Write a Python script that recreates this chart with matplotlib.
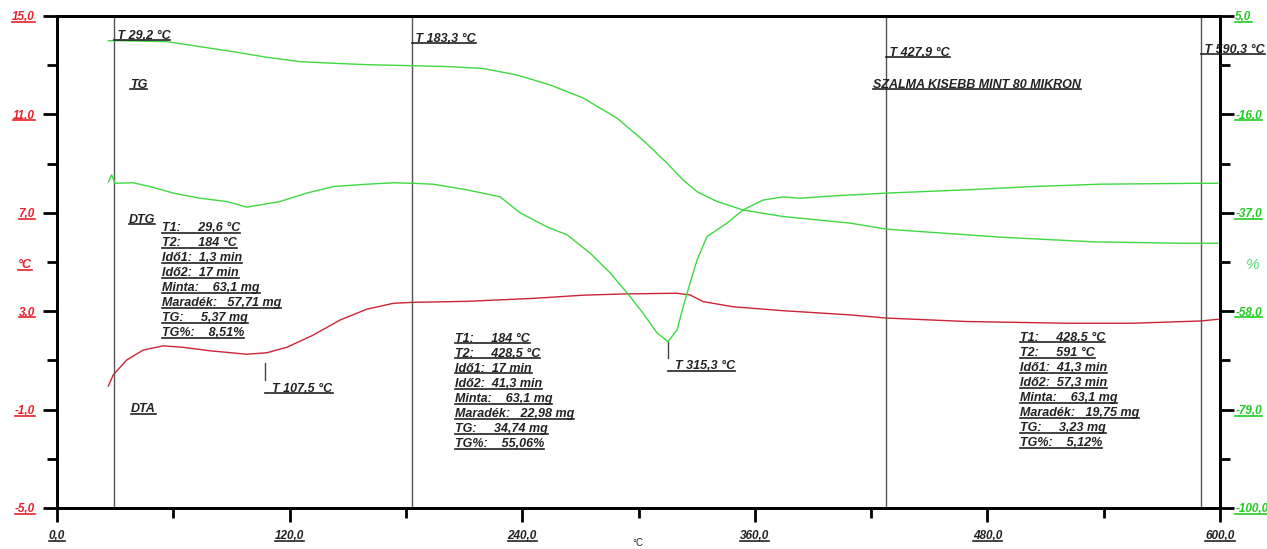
import matplotlib
matplotlib.use("Agg")
import matplotlib.pyplot as plt
from matplotlib.lines import Line2D

plt.rcParams['font.family'] = ['Liberation Sans', 'DejaVu Sans']

# TG curve (right axis, %)
tg_temp = [26.5, 32.5, 56.6, 73.8, 91.0, 108.2, 125.4, 142.6, 159.8, 183.0, 202.8,
           219.8, 237.3, 254.3, 271.4, 288.9, 302.3, 314.7, 323.0, 330.2, 340.5,
           353.9, 374.6, 409.1, 428.0, 486.5, 534.5, 579.4, 599.0]
tg_val = [-0.27, -0.27, -0.48, -1.55, -2.62, -3.81, -4.75, -5.09, -5.39, -5.61, -5.82,
          -6.2, -7.6, -9.7, -12.5, -16.8, -21.5, -26.4, -30.0, -32.5, -34.6,
          -36.4, -37.8, -39.2, -40.5, -42.2, -43.2, -43.5, -43.5]

# DTG curve (right axis)
dtg_temp = [26.5, 28.2, 29.9, 39.2, 48.0, 60.0, 73.8, 87.6, 97.9, 115.0, 128.8,
            142.6, 159.8, 173.5, 183.0, 194.1, 211.4, 228.6, 238.9, 252.8, 263.1,
            275.0, 285.3, 294.1, 302.3, 309.5, 315.2, 319.9, 323.0, 326.6, 330.2,
            335.3, 345.7, 353.9, 364.2, 374.6, 383.3, 400.4, 428.0, 469.3, 503.5,
            538.1, 589.7, 599.0]
dtg_val = [-30.4, -28.9, -30.7, -30.6, -31.4, -32.8, -33.9, -34.6, -35.8, -34.6, -32.8,
           -31.4, -30.9, -30.6, -30.7, -30.9, -32.1, -33.6, -37.0, -40.0, -41.7,
           -45.6, -49.8, -54.1, -58.4, -62.6, -64.5, -62.0, -57.1, -52.0, -47.1,
           -42.1, -39.2, -36.4, -34.3, -33.6, -33.9, -33.4, -32.8, -32.1, -31.4,
           -30.9, -30.7, -30.7]

# DTA curve (left axis, °C)
dta_temp = [26.5, 29.0, 36.0, 44.5, 54.8, 65.2, 78.9, 97.9, 108.2, 118.5, 132.2,
            146.0, 159.8, 173.5, 183.8, 211.4, 245.6, 271.4, 292.0, 319.7, 326.6,
            333.3, 348.8, 374.6, 409.1, 428.0, 469.3, 520.9, 555.1, 589.7, 599.0]
dta_val = [-0.04, 0.41, 1.02, 1.42, 1.59, 1.53, 1.39, 1.25, 1.31, 1.53, 2.03,
           2.64, 3.08, 3.32, 3.36, 3.40, 3.52, 3.65, 3.70, 3.73, 3.66,
           3.39, 3.18, 3.02, 2.85, 2.72, 2.58, 2.51, 2.51, 2.60, 2.67]

vlines = [29.2, 183.3, 427.9, 590.3]
vline_labels = [" T 29,2 °C", " T 183,3 °C", " T 427,9 °C", " T 590,3 °C"]
vline_label_y = [14.19, 14.07, 13.5, 13.62]

peaks = [107.5, 315.3]
peak_labels = ["  T 107,5 °C", "  T 315,3 °C"]

block1 = ["T1:     29,6 °C", "T2:     184 °C", "Idő1:  1,3 min", "Idő2:  17 min",
          "Minta:    63,1 mg", "Maradék:   57,71 mg", "TG:     5,37 mg", "TG%:    8,51%"]
block2 = ["T1:     184 °C", "T2:     428,5 °C", "Idő1:  17 min", "Idő2:  41,3 min",
          "Minta:    63,1 mg", "Maradék:   22,98 mg", "TG:     34,74 mg", "TG%:    55,06%"]
block3 = ["T1:     428,5 °C", "T2:     591 °C", "Idő1:  41,3 min", "Idő2:  57,3 min",
          "Minta:    63,1 mg", "Maradék:   19,75 mg", "TG:     3,23 mg", "TG%:    5,12%"]

x_major = [0, 120, 240, 360, 480, 600]
x_minor = [60, 180, 300, 420, 540]
left_major = [15, 11, 7, 3, -1, -5]
left_minor = [13, 9, 5, 1, -3]
right_major = [5, -16, -37, -58, -79, -100]
right_minor = [-5.5, -26.5, -47.5, -68.5, -89.5]

GREEN = "#40d840"
RED = "#cc2436"
LRED = "#e8202a"
LGREEN = "#22cc22"

fig = plt.figure(figsize=(12.67, 5.49), dpi=100)
ax = fig.add_axes([0.045, 0.0747, 0.9179, 0.8962])
ax2 = ax.twinx()

ax.set_xlim(0, 600)
ax.set_ylim(-5, 15)
ax2.set_ylim(-100, 5)

ax.plot(dta_temp, dta_val, color=RED, lw=1)
ax2.plot(tg_temp, tg_val, color=GREEN, lw=1)
ax2.plot(dtg_temp, dtg_val, color=GREEN, lw=1)

for v in vlines:
    ax.axvline(v, color="#555555", lw=1)

# peak markers
ax.plot([peaks[0], peaks[0]], [0.2, 0.89], color="#444444", lw=1)
ax.plot([peaks[1], peaks[1]], [1.1, 1.75], color="#444444", lw=1)

for sp in ax.spines.values():
    sp.set_linewidth(2)
for sp in ax2.spines.values():
    sp.set_linewidth(2)

tick_font = dict(fontsize=8.5, fontweight="bold", fontstyle="italic")
tfont = dict(fontsize=9, fontweight="bold", fontstyle="italic")

ax.set_xticks(x_major)
ax.set_xticks(x_minor, minor=True)
ax.set_xticklabels([f"{v:.1f}".replace(".", ",") for v in x_major], color="#222222", **tick_font)
ax.set_yticks(left_major)
ax.set_yticks(left_minor, minor=True)
ax.set_yticklabels([f"{v:.1f}".replace(".", ",") for v in left_major], color=LRED, **tick_font)
ax2.set_yticks(right_major)
ax2.set_yticks(right_minor, minor=True)
ax2.set_yticklabels([f"{v:.1f}".replace(".", ",") for v in right_major], color=LGREEN, **tick_font)

ax.tick_params(axis="both", which="major", length=10, width=2, direction="out", pad=6)
ax.tick_params(axis="both", which="minor", length=7, width=2, direction="out")
ax2.tick_params(axis="y", which="major", length=10, width=2, direction="out", pad=1)
ax2.tick_params(axis="y", which="minor", length=7, width=2, direction="out")

under = []
for v, lab, y in zip(vlines, vline_labels, vline_label_y):
    under.append(ax.text(v, y, lab, va="center", ha="left", color="#222222", **tfont))
under.append(ax.text(peaks[0], -0.16, peak_labels[0], va="center", ha="left", color="#222222", **tfont))
under.append(ax.text(peaks[1], 0.77, peak_labels[1], va="center", ha="left", color="#222222", **tfont))

under.append(ax.text(37.7, 12.2, "TG", va="center", color="#222222", **tfont))
under.append(ax.text(37.1, 6.71, "DTG", va="center", color="#222222", **tfont))
under.append(ax.text(38.2, -0.98, "DTA", va="center", color="#222222", **tfont))
under.append(ax.text(421, 12.2, "SZALMA KISEBB MINT 80 MIKRON", va="center", color="#222222", **tfont))

for bx, by, block in [(54.2, 6.38, block1), (205.3, 1.87, block2), (496.8, 1.91, block3)]:
    for i, line in enumerate(block):
        under.append(ax.text(bx, by - i * 0.61, line, va="center", ha="left",
                             color="#222222", **tfont))

under.append(fig.text(18 / 1267, 1 - 265 / 549, "°C", va="center", ha="left", color=LRED, **tfont))
fig.text(1253 / 1267, 1 - 265 / 549, "%", va="center", ha="center", color="#55dd77",
         fontsize=11, fontstyle="italic")
fig.text(638 / 1267, 1 - 543 / 549, "°C", va="center", ha="center", color="#222222", fontsize=7)

# underline texts
fig.canvas.draw()
r = fig.canvas.get_renderer()
inv = fig.transFigure.inverted()
items = [(t, t.get_color()) for t in under]
items += [(t, t.get_color()) for t in ax.get_xticklabels()]
items += [(t, t.get_color()) for t in ax.get_yticklabels()]
items += [(t, t.get_color()) for t in ax2.get_yticklabels()]
for t, c in items:
    bb = t.get_window_extent(r)
    (x0, y0), (x1, _) = inv.transform([(bb.x0, bb.y0 + 1.5), (bb.x1, bb.y0 + 1.5)])
    fig.add_artist(Line2D([x0, x1], [y0, y0], transform=fig.transFigure, color=c, lw=1.2))

fig.savefig("out.png", dpi=100)
